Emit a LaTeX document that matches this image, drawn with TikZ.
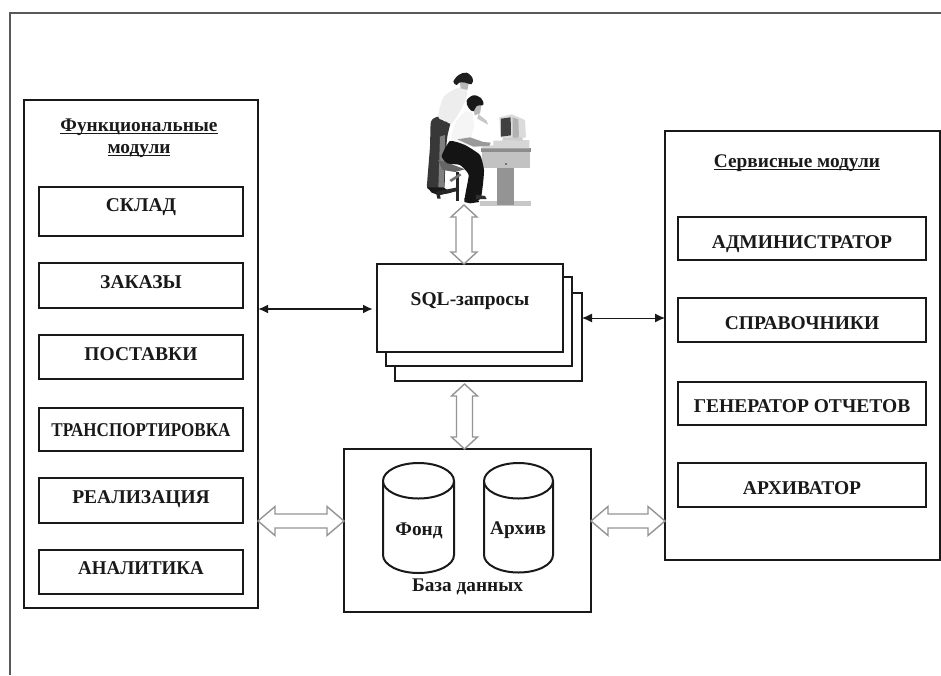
\documentclass[tikz,border=0pt]{standalone}
\usepackage{fontspec}
\setmainfont{Liberation Serif}
\usetikzlibrary{calc,arrows.meta}
\definecolor{ink}{gray}{0.1}
\definecolor{openline}{gray}{0.58}
\newcommand{\ulb}[1]{\setbox0\hbox{#1}\leavevmode\rlap{\rule[-3pt]{\wd0}{1.5pt}}\box0}
\newcommand{\capat}[2]{\raisebox{\dimexpr#1pt-6.5pt\relax}[0pt][0pt]{#2}}
\newcommand{\hopen}[2]{\draw[openarr] let \p1=(#1),\p2=(#2) in
  (\x1,\y1) -- (\x1+17pt,\y1+14.5pt) -- (\x1+17pt,\y1+7pt) -- (\x2-17pt,\y1+7pt) -- (\x2-17pt,\y1+14.5pt)
  -- (\x2,\y1) -- (\x2-17pt,\y1-14.5pt) -- (\x2-17pt,\y1-7pt) -- (\x1+17pt,\y1-7pt) -- (\x1+17pt,\y1-14.5pt) -- cycle;}
\newcommand{\vopen}[2]{\draw[openarr] let \p1=(#1),\p2=(#2) in
  (\x1,\y1) -- (\x1+13pt,\y1-12pt) -- (\x1+8pt,\y1-12pt) -- (\x1+8pt,\y2+12pt) -- (\x1+13pt,\y2+12pt)
  -- (\x1,\y2) -- (\x1-13pt,\y2+12pt) -- (\x1-8pt,\y2+12pt) -- (\x1-8pt,\y1-12pt) -- (\x1-13pt,\y1-12pt) -- cycle;}
\tikzset{
  x=1pt,y=-1pt,
  blockbox/.style={draw=ink,line width=2pt,fill=white,inner sep=0pt,outer sep=0pt},
  modbox/.style={blockbox,minimum width=#1,font=\bfseries\fontsize{19.5}{22}\selectfont,text=ink},
  caption/.style={font=\bfseries\fontsize{19.3}{22}\selectfont,text=ink,align=center,inner sep=0pt},
  openarr/.style={draw=openline,line width=1.4pt,fill=white,line join=miter},
  solidarr/.style={draw=ink,{Latex[length=10pt,width=9pt]}-{Latex[length=10pt,width=9pt]}},
  drum/.style={draw=ink,line width=2pt,fill=white},
  clip/.style={draw=none,line join=round}
}
\begin{document}
\begin{tikzpicture}
\useasboundingbox (0,0) rectangle (941,675);
\fill[white] (0,0) rectangle (941,675);
% page frame
\draw[draw=black!65,line width=2pt] (10,675) -- (10,13) -- (941,13);

% functional modules
\node[blockbox,minimum width=234pt,minimum height=508pt] (fm) at (141,354) {};
\node[caption] (fmt) at (139,138) {\ulb{Функциональные}\\\ulb{модули}};
\node[modbox=204pt,minimum height=49pt] (m1) at (141,211.5) {\capat{6.5}{СКЛАД}};
\node[modbox=204pt,minimum height=45pt] (m2) at (141,285.5) {\capat{3.5}{ЗАКАЗЫ}};
\node[modbox=204pt,minimum height=44pt] (m3) at (141,357) {\capat{3}{ПОСТАВКИ}};
\node[modbox=204pt,minimum height=43pt] (m4) at (141,429.5) {\capat{0}{\scalebox{0.875}[1]{ТРАНСПОРТИРОВКА}}};
\node[modbox=204pt,minimum height=45pt] (m5) at (141,500.5) {\capat{3.5}{РЕАЛИЗАЦИЯ}};
\node[modbox=204pt,minimum height=44pt] (m6) at (141,572) {\capat{4}{\scalebox{0.97}[1]{АНАЛИТИКА}}};

% service modules
\node[blockbox,minimum width=275pt,minimum height=429pt] (sm) at (802.5,345.5) {};
\node[caption] (smt) at (797,163) {\ulb{Сервисные модули}};
\node[modbox=248pt,minimum height=43pt] (s1) at (802,238.5) {\capat{-3.5}{АДМИНИСТРАТОР}};
\node[modbox=248pt,minimum height=44pt] (s2) at (802,320) {\capat{-3}{СПРАВОЧНИКИ}};
\node[modbox=248pt,minimum height=43pt] (s3) at (802,403.5) {\capat{-2.5}{ГЕНЕРАТОР ОТЧЕТОВ}};
\node[modbox=248pt,minimum height=44pt] (s4) at (802,485) {\capat{-3}{АРХИВАТОР}};

% SQL stack
\node[blockbox,minimum width=187pt,minimum height=88pt] (q3) at (488.5,337) {};
\node[blockbox,minimum width=186pt,minimum height=89pt] (q2) at (479,321.5) {};
\node[modbox=186pt,minimum height=88pt] (q1) at (470,308) {\capat{9}{SQL-запросы}};

% database
\node[blockbox,minimum width=247pt,minimum height=163pt] (db) at (467.5,530.5) {};
\draw[drum] (383,481) -- (383,555) arc[start angle=180,end angle=360,x radius=35.5pt,y radius=18pt]
  -- (454,481) arc[start angle=0,end angle=180,x radius=35.5pt,y radius=18pt] -- cycle;
\draw[drum] (383,481) arc[start angle=180,end angle=360,x radius=35.5pt,y radius=17.5pt];
\draw[drum] (484,481) -- (484,555) arc[start angle=180,end angle=360,x radius=34.5pt,y radius=17.5pt]
  -- (553,481) arc[start angle=0,end angle=180,x radius=34.5pt,y radius=18pt] -- cycle;
\draw[drum] (484,481) arc[start angle=180,end angle=360,x radius=34.5pt,y radius=17.5pt];
\node[caption] (c1) at (419,530.5) {Фонд};
\node[caption] (c2) at (518,530.5) {Архив};
\node[caption] (dbt) at (467.5,586.5) {База данных};

% users picture (units: 1/3 px)
\begin{scope}[shift={(370,80)},x=0.3333pt,y=-0.3333pt]
  % desk
  \fill[clip,black!22] (330,362) rectangle (483,378);
  \fill[clip,black!42] (382,262) rectangle (432,376);
  \fill[clip,black!24] (335,213) rectangle (480,265);
  \fill[clip,black!45] (332,205) rectangle (484,215);
  \fill[clip,black!16] (370,182) -- (478,180) -- (478,205) -- (335,205) -- (340,198) -- (370,196) -- cycle;
  \fill[clip,black!55] (404,249) rectangle (410,255);
  % monitor
  \fill[clip,black!14] (388,112) -- (425,103) -- (465,120) -- (468,172) -- (430,178) -- (392,172) -- cycle;
  \fill[clip,black!30] (428,112) -- (445,118) -- (447,172) -- (428,176) -- cycle;
  \fill[clip,black!75] (393,116) -- (422,112) -- (423,166) -- (393,170) -- cycle;
  \fill[clip,black!20] (398,174) -- (458,172) -- (458,182) -- (398,182) -- cycle;
  % woman
  \fill[clip,black!78] plot[smooth cycle,tension=0.4] coordinates {(183,125) (205,110) (225,125) (244,115) (232,170) (226,240) (222,330) (195,332) (172,325) (172,300) (180,200)};
  \fill[clip,black!50] (210,170) -- (225,165) -- (222,325) -- (205,325) -- cycle;
  \fill[clip,black!90] (172,322) -- (220,322) -- (245,338) -- (205,345) -- (185,338) -- cycle;
  \fill[clip,black!7] plot[smooth cycle,tension=0.5] coordinates {(205,110) (222,50) (270,22) (292,40) (272,90) (245,130) (225,122)};
  \fill[clip,black!28] (270,8) -- (297,8) -- (292,30) -- (272,25) -- cycle;
  \fill[clip,black!88] plot[smooth cycle,tension=0.6] coordinates {(250,5) (266,-15) (290,-22) (308,-5) (305,12) (285,8) (268,8) (260,15)};
  % chair
  \fill[clip,black!60] (204,240) -- (232,248) -- (285,268) -- (255,276) -- (218,270) -- cycle;
  \fill[clip,black!85] (258,276) rectangle (268,362);
  \fill[clip,black!85] (198,335) -- (262,322) -- (268,332) -- (210,345) -- (212,356) -- (202,356) -- cycle;
  \fill[clip,black!55] (238,300) -- (270,280) -- (274,286) -- (244,306) -- cycle;
  % man
  \fill[clip,black!4] plot[smooth cycle,tension=0.4] coordinates {(243,180) (255,130) (285,95) (306,100) (312,140) (305,172) (340,186) (362,188) (358,198) (300,198) (265,192)};
  \fill[clip,black!40] (262,178) -- (300,172) -- (340,186) -- (362,188) -- (358,198) -- (310,200) -- cycle;
  \fill[clip,black!92] plot[smooth cycle,tension=0.3] coordinates {(215,228) (240,183) (285,195) (330,225) (342,270) (338,320) (330,358) (285,358) (296,285) (270,255) (232,250)};
  \fill[clip,black!92] (283,354) -- (320,352) -- (328,366) -- (300,370) -- (283,366) -- cycle;
  \fill[clip,black!82] (318,344) -- (345,348) -- (350,357) -- (318,358) -- cycle;
  \fill[clip,black!28] (310,78) -- (335,72) -- (330,100) -- (314,106) -- cycle;
  \fill[clip,black!22] (325,102) -- (350,122) -- (354,134) -- (322,116) -- cycle;
  \fill[clip,black!90] plot[smooth cycle,tension=0.6] coordinates {(290,62) (310,46) (333,54) (340,74) (320,78) (310,94) (296,84)};
\end{scope}

% connectors
\coordinate (u1) at (464,205);
\vopen{u1}{q1.north -| u1}
\coordinate (yl) at (0,309);
\coordinate (yr) at (0,318);
\coordinate (yb) at (0,521);
\draw[solidarr,line width=2pt,shorten >=4pt] (fm.east |- yl) -- (q1.west |- yl);
\draw[solidarr,line width=1pt] (q3.east |- yr) -- (sm.west |- yr);
\coordinate (d1) at (464.5,384);
\vopen{d1}{db.north -| d1}
\hopen{fm.east |- yb}{db.west |- yb}
\hopen{db.east |- yb}{sm.west |- yb}
\end{tikzpicture}
\end{document}
